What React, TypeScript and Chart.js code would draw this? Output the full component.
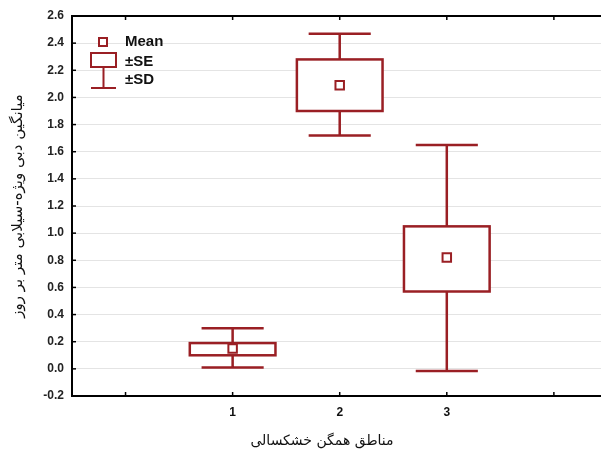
import React, { useEffect, useRef } from "react";
import { Chart, registerables } from "chart.js";

Chart.register(...registerables);

const categories = [1, 2, 3];
const means = [0.15, 2.09, 0.82];
const seLow = [0.1, 1.9, 0.57];
const seHigh = [0.19, 2.28, 1.05];
const sdLow = [0.01, 1.72, -0.015];
const sdHigh = [0.3, 2.47, 1.65];
const xTickValues = [0, 1, 2, 3, 4];
const yTickValues = [-0.2, 0, 0.2, 0.4, 0.6, 0.8, 1.0, 1.2, 1.4, 1.6, 1.8, 2.0, 2.2, 2.4, 2.6];
const yTitle = "میانگین دبی ویژه-سیلابی متر بر روز";
const xTitle = "مناطق همگن خشکسالی";
const legendLabels = ["Mean", "±SE", "±SD"];

const RED = "#9a1f24";
const BOX_HALF = 0.4;
const CAP_HALF = 0.29;

const boxPlugin = {
  id: "boxPlugin",
  beforeDatasetsDraw(chart: any) {
    const { ctx, scales } = chart;
    const xs = scales.x;
    const ys = scales.y;
    ctx.save();
    ctx.strokeStyle = RED;
    ctx.lineWidth = 2.5;
    categories.forEach((c, i) => {
      const xc = xs.getPixelForValue(c);
      const xl = xs.getPixelForValue(c - BOX_HALF);
      const xr = xs.getPixelForValue(c + BOX_HALF);
      const cl = xs.getPixelForValue(c - CAP_HALF);
      const cr = xs.getPixelForValue(c + CAP_HALF);
      const yTop = ys.getPixelForValue(sdHigh[i]);
      const yBot = ys.getPixelForValue(sdLow[i]);
      const bTop = ys.getPixelForValue(seHigh[i]);
      const bBot = ys.getPixelForValue(seLow[i]);
      ctx.beginPath();
      ctx.moveTo(xc, yTop);
      ctx.lineTo(xc, bTop);
      ctx.moveTo(xc, bBot);
      ctx.lineTo(xc, yBot);
      ctx.moveTo(cl, yTop);
      ctx.lineTo(cr, yTop);
      ctx.moveTo(cl, yBot);
      ctx.lineTo(cr, yBot);
      ctx.stroke();
      ctx.fillStyle = "#ffffff";
      ctx.fillRect(xl, bTop, xr - xl, bBot - bTop);
      ctx.strokeRect(xl, bTop, xr - xl, bBot - bTop);
    });
    ctx.restore();
  },
  afterDraw(chart: any) {
    const { ctx, chartArea, scales } = chart;
    const xs = scales.x;
    const ys = scales.y;
    ctx.save();
    ctx.strokeStyle = "#000";
    ctx.lineWidth = 2;
    ctx.beginPath();
    ctx.moveTo(chartArea.left - 1, chartArea.top);
    ctx.lineTo(chartArea.right, chartArea.top);
    ctx.stroke();
    ctx.lineWidth = 1.5;
    xTickValues.forEach((v) => {
      const x = xs.getPixelForValue(v);
      ctx.beginPath();
      ctx.moveTo(x, chartArea.top);
      ctx.lineTo(x, chartArea.top + 4);
      ctx.moveTo(x, chartArea.bottom);
      ctx.lineTo(x, chartArea.bottom - 4);
      ctx.stroke();
    });
    yTickValues.forEach((v) => {
      const y = ys.getPixelForValue(v);
      ctx.beginPath();
      ctx.moveTo(chartArea.left, y);
      ctx.lineTo(chartArea.left + 4, y);
      ctx.stroke();
    });
    ctx.fillStyle = "#111";
    ctx.font = "14px 'DejaVu Sans', sans-serif";
    ctx.textAlign = "center";
    ctx.textBaseline = "middle";
    ctx.fillText(xTitle, chartArea.left + 250, chartArea.bottom + 45);
    const lx = chartArea.left;
    const ly = chartArea.top;
    ctx.strokeStyle = RED;
    ctx.lineWidth = 2;
    ctx.fillStyle = "#fff";
    ctx.fillRect(lx + 27, ly + 22, 8, 8);
    ctx.strokeRect(lx + 27, ly + 22, 8, 8);
    ctx.strokeRect(lx + 19, ly + 37, 25, 14);
    ctx.beginPath();
    ctx.moveTo(lx + 31.5, ly + 51);
    ctx.lineTo(lx + 31.5, ly + 72);
    ctx.moveTo(lx + 19, ly + 72);
    ctx.lineTo(lx + 44, ly + 72);
    ctx.stroke();
    ctx.fillStyle = "#111";
    ctx.font = "bold 15px 'Liberation Sans', Arial, sans-serif";
    ctx.textBaseline = "middle";
    ctx.textAlign = "left";
    ctx.fillText(legendLabels[0], lx + 53, ly + 26);
    ctx.fillText(legendLabels[1], lx + 53, ly + 46);
    ctx.fillText(legendLabels[2], lx + 53, ly + 64);
    ctx.restore();
  },
};

export default function App() {
  const ref = useRef<HTMLCanvasElement | null>(null);
  useEffect(() => {
    if (!ref.current) return;
    const chart = new Chart(ref.current, {
      type: "scatter",
      data: {
        datasets: [
          {
            label: "Mean",
            data: categories.map((c, i) => ({ x: c, y: means[i] })),
            pointStyle: "rect",
            pointRadius: 6,
            pointHoverRadius: 6,
            borderColor: RED,
            backgroundColor: "#ffffff",
            borderWidth: 2,
          },
        ],
      },
      options: {
        animation: false,
        responsive: true,
        maintainAspectRatio: false,
        layout: { autoPadding: false, padding: { top: 16, right: 0, left: 0, bottom: 0 } },
        plugins: { legend: { display: false }, tooltip: { enabled: false } },
        scales: {
          x: {
            type: "linear",
            min: -0.5,
            max: 4.44,
            afterBuildTicks: (axis: any) => {
              axis.ticks = xTickValues.map((v) => ({ value: v }));
            },
            afterFit: (axis: any) => {
              axis.height = 66;
              axis.paddingRight = 0;
              axis.paddingLeft = 0;
            },
            grid: { display: false, drawTicks: false },
            border: { display: true, color: "#000", width: 2 },
            ticks: {
              padding: 9,
              maxRotation: 0,
              color: "#111",
              font: { family: "'Liberation Sans', Arial, sans-serif", size: 12, weight: "bold" },
              callback: (v: any) => (v >= 1 && v <= 3 ? String(v) : ""),
            },
            title: { display: false },
          },
          y: {
            type: "linear",
            min: -0.2,
            max: 2.6,
            afterBuildTicks: (axis: any) => {
              axis.ticks = yTickValues.map((v) => ({ value: v }));
            },
            afterFit: (axis: any) => {
              axis.width = 72;
            },
            grid: { color: "#e4e4e4", lineWidth: 1, drawTicks: false },
            border: { display: true, color: "#000", width: 2 },
            ticks: {
              padding: 8,
              color: "#222",
              font: { family: "'Liberation Sans', Arial, sans-serif", size: 12, weight: "bold" },
              callback: (v: any) => Number(v).toFixed(1),
            },
            title: {
              display: true,
              text: yTitle,
              color: "#111",
              font: { family: "'DejaVu Sans', sans-serif", size: 15 },
              padding: { top: 9, bottom: 0 },
            },
          },
        },
      },
      plugins: [boxPlugin],
    } as any);
    return () => chart.destroy();
  }, []);
  return (
    <div style={{ position: "absolute", left: 0, top: 0, width: 601, height: 462, background: "#fff" }}>
      <canvas ref={ref} />
    </div>
  );
}
